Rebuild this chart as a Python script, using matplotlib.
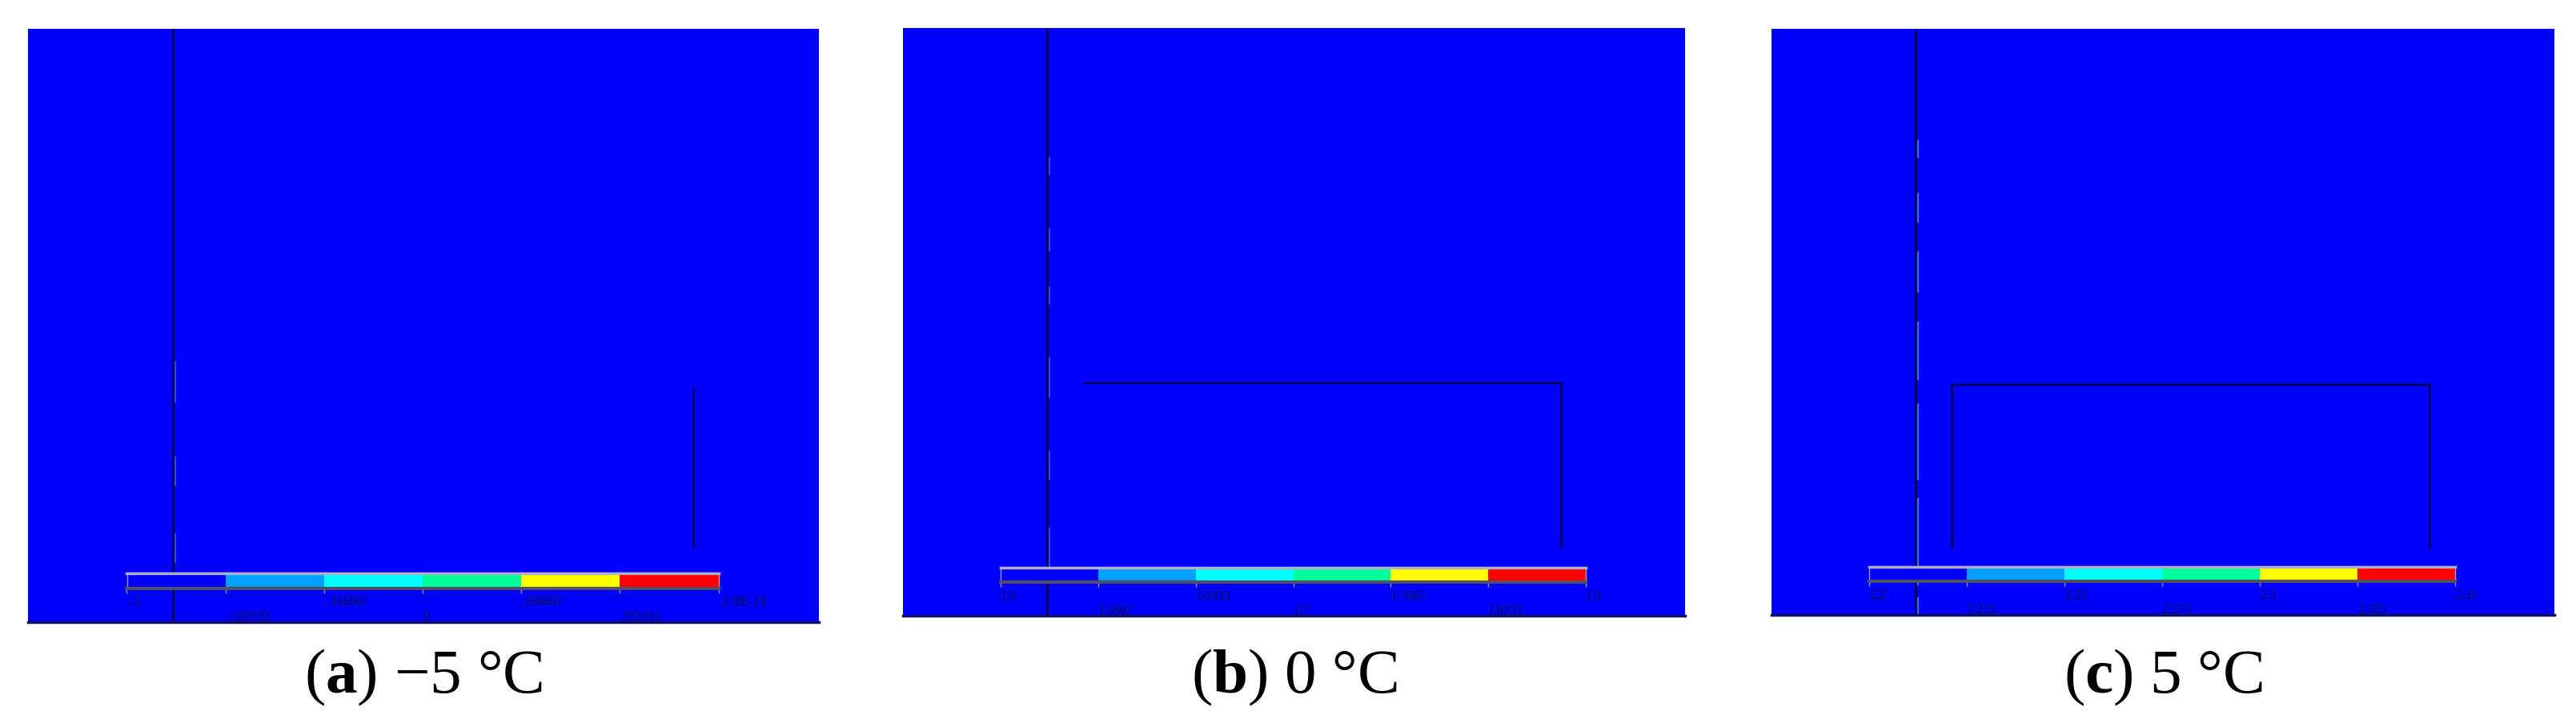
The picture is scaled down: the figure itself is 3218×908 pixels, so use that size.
import numpy as np
import matplotlib
matplotlib.use("Agg")
import matplotlib.pyplot as plt

plt.rcParams['mathtext.fontset'] = 'custom'
plt.rcParams['mathtext.rm'] = 'Liberation Serif'
plt.rcParams['mathtext.bf'] = 'Liberation Serif:bold'

# ---------------- data ----------------
captions_letter = ["a", "b", "c"]
captions_temp = ["\u22125 \u00b0C", "0 \u00b0C", "5 \u00b0C"]

band_colors = ["#0000ff", "#00a0ff", "#00ffff", "#00ff9c", "#ffff00", "#ff0000"]

levels_a = [-0.5, -0.333333, -0.166667, 0.0, 0.166667, 0.333333, 0.5]
labels_a = ["-.5", "-.333333", "-.166667", "0", ".166667", ".333333", ".278E-13"]
levels_b = [1.5, 1.5667, 1.6333, 1.7, 1.7667, 1.8333, 1.9]
labels_b = ["1.5", "1.5667", "1.6333", "1.7", "1.7667", "1.8333", "1.9"]
levels_c = [2.2, 2.225, 2.25, 2.275, 2.3, 2.325, 2.35]
labels_c = ["2.2", "2.225", "2.25", "2.275", "2.3", "2.325", "2.35"]

# structure geometry (fraction of panel width / height from top)
pile_x = [0.183, 0.184, 0.184]
dash_x = [0.186, 0.187, 0.187]
dash_segments_a = [(0.56, 0.63), (0.72, 0.77), (0.85, 0.90)]
dash_segments_b = [(0.22, 0.25), (0.34, 0.38), (0.44, 0.47), (0.56, 0.63), (0.72, 0.77), (0.85, 0.92)]
dash_segments_c = [(0.19, 0.22), (0.28, 0.33), (0.38, 0.45), (0.50, 0.60), (0.64, 0.77), (0.80, 0.95), (0.97, 1.0)]
box_a = dict(left=None, right=0.841, top=0.607, bottom=0.873, top_line=False)
box_b = dict(left=None, right=0.841, top=0.604, bottom=0.883, top_line=True, top_from=0.231)
box_c = dict(left=0.230, right=0.840, top=0.607, bottom=0.884, top_line=True, top_from=0.230)

panel_px = [(35, 36, 1023, 777), (1128, 35, 2105, 769), (2213, 36, 3191, 768)]

W, H = 3218, 908
fig = plt.figure(figsize=(W / 100, H / 100), dpi=100)
fig.patch.set_facecolor("white")

blue = "#0000fe"
dark = "#000048"
dashcol = "#3c8cff"

levels_all = [levels_a, levels_b, levels_c]
labels_all = [labels_a, labels_b, labels_c]
dashes_all = [dash_segments_a, dash_segments_b, dash_segments_c]
boxes = [box_a, box_b, box_c]

for i in range(3):
    x0, y0, x1, y1 = panel_px[i]
    ax = fig.add_axes([x0 / W, 1 - y1 / H, (x1 - x0) / W, (y1 - y0) / H])
    ax.set_facecolor(blue)
    ax.set_xlim(0, 1)
    ax.set_ylim(1, 0)
    ax.set_xticks([])
    ax.set_yticks([])
    for s in ["top", "left", "right"]:
        ax.spines[s].set_visible(False)
    ax.spines["bottom"].set_color("#10106a")
    ax.spines["bottom"].set_linewidth(2.5)

    # pile / wall line
    ax.plot([pile_x[i], pile_x[i]], [0, 1], color=dark, lw=2.0, solid_capstyle="butt")
    for (ya, yb) in dashes_all[i]:
        ax.plot([dash_x[i], dash_x[i]], [ya, yb], color=dashcol, lw=1.6,
                alpha=0.8 if i == 2 else 0.55, solid_capstyle="butt")

    bx = boxes[i]
    ax.plot([bx["right"], bx["right"]], [bx["top"], bx["bottom"]], color=dark, lw=1.8)
    if bx["left"] is not None:
        ax.plot([bx["left"], bx["left"]], [bx["top"], bx["bottom"]], color=dark, lw=1.8)
    if bx["top_line"]:
        ax.plot([bx["top_from"], bx["right"]], [bx["top"], bx["top"]], color=dark, lw=1.8)

    # colour bar
    lv = levels_all[i]
    cb = ax.inset_axes([0.125, 0.057, 0.748, 0.025])
    widths = np.diff(lv)
    cb.bar(lv[:-1], 1, width=widths, align="edge", color=band_colors, edgecolor="none")
    cb.set_xlim(lv[0], lv[-1])
    cb.set_ylim(0, 1)
    cb.set_yticks([])
    cb.set_xticks(lv)
    cb.set_xticklabels([])
    cb.tick_params(axis="x", direction="out", length=4, width=1, color="#9090c0")
    cb.spines["top"].set_color("#b0b0c8")
    cb.spines["top"].set_linewidth(2.5)
    cb.spines["bottom"].set_color("#505060")
    cb.spines["bottom"].set_linewidth(3)
    cb.spines["left"].set_color("#a0a0c0")
    cb.spines["right"].set_color("#a0a0c0")
    cb.spines["left"].set_linewidth(1)
    cb.spines["right"].set_linewidth(1)

    for k, (v, lab) in enumerate(zip(lv, labels_all[i])):
        yy = -0.95 if k % 2 == 0 else -1.95
        t = cb.text(v, yy, lab, transform=cb.get_xaxis_transform(), ha="left",
                    va="center", fontsize=11.5, color="#0a0a40",
                    family="Liberation Serif")
        t.set_clip_path(ax.patch)

    # caption
    fig.text((x0 + x1) / 2 / W, 1 - 846 / H,
             r"($\mathbf{" + captions_letter[i] + r"}$) " + captions_temp[i],
             ha="center", va="center", fontsize=57, family="Liberation Serif")

fig.savefig("out.png", dpi=100, facecolor="white")
